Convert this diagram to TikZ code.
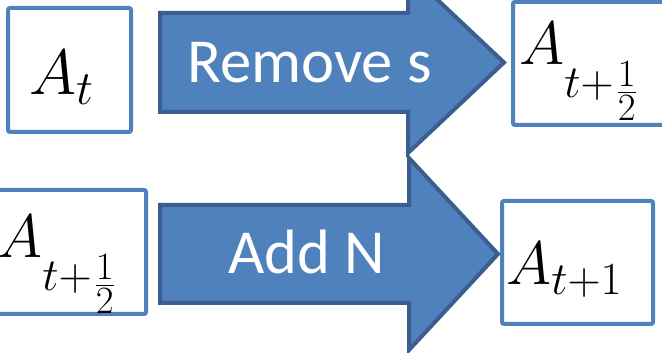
\RequirePackage{fix-cm}
\documentclass[tikz,border=0pt]{standalone}
\usepackage{amsmath}
\usepackage{fontspec}
\newfontfamily\calibri{Carlito}
\renewcommand\defaultscriptratio{.75}
\renewcommand\defaultscriptscriptratio{.63}
\definecolor{fillblue}{HTML}{4F81BD}
\definecolor{edgeblue}{HTML}{3A5F8E}
\definecolor{boxblue}{HTML}{4F81BD}
\newcommand\halfA{$A\lower24.5pt\hbox{$\scriptstyle t+\mkern1mu\lower5pt\hbox{$\scriptstyle\frac{1}{2}$}$}$}
\tikzset{
  arrowshape/.style={fill=fillblue, draw=edgeblue, line width=3pt, line join=miter},
  statebox/.style={draw=boxblue, line width=3pt, fill=white, rounded corners=1.5pt, inner sep=0pt},
  mathlbl/.style={anchor=base west, inner sep=0pt, font=\fontsize{46}{50}\selectfont},
  oplbl/.style={anchor=base, inner sep=0pt, text=white, font=\calibri\fontsize{47}{50}\selectfont}
}
\begin{document}
\begin{tikzpicture}[x=0.75pt,y=-0.75pt]
\useasboundingbox (0,0) rectangle (662,353);
\clip (0,0) rectangle (662,353);
% boxes
\node[statebox, minimum width=92.25pt, minimum height=93pt] (b1) at (69.5,70) {};
\node[statebox, minimum width=140.25pt, minimum height=92.25pt] (b2) at (606.5,63.5) {};
\node[statebox, minimum width=154.5pt, minimum height=93pt] (b3) at (43,252) {};
\node[statebox, minimum width=113.25pt, minimum height=92.25pt] (b4) at (577.5,262.5) {};
% arrows
\draw[arrowshape] (160,13) -- (408,13) -- (408,-28) -- (504,62.5) -- (408,153) -- (408,112) -- (160,112) -- cycle;
\draw[arrowshape] (160,205) -- (409,205) -- (409,158) -- (498,254) -- (409,350) -- (409,303) -- (160,303) -- cycle;
% labels
\node[oplbl] (remove) at (309.5,83) {Remove s};
\node[oplbl] (add) at (307,274) {Add N};
\node[mathlbl, font=\fontsize{48}{52}\selectfont] (m1) at (29,95) {$A_t$};
\node[mathlbl] (m2) at (519,65) {\halfA};
\node[mathlbl] (m3) at (-3,258) {\halfA};
\node[mathlbl] (m4) at (506,285) {$A_{t+1}$};
\end{tikzpicture}
\end{document}
